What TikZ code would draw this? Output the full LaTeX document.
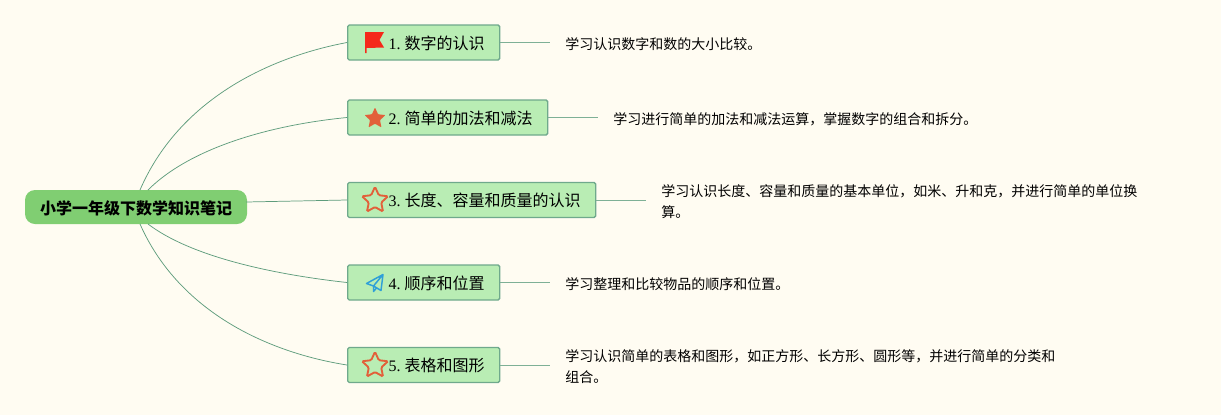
\documentclass[tikz,border=0pt]{standalone}
\usepackage{fontspec}
\setmainfont{Liberation Serif}
\newfontfamily\cjk{Noto Sans CJK SC}
\usetikzlibrary{shapes.geometric}
\definecolor{bgc}{HTML}{FFFCF2}
\definecolor{boxfill}{HTML}{B9EDB4}
\definecolor{boxline}{HTML}{6FA98C}
\definecolor{rootfill}{HTML}{80CE72}
\definecolor{linkc}{HTML}{5E9C7C}
\definecolor{starc}{HTML}{E2603A}
\definecolor{flagc}{HTML}{F5291A}
\definecolor{planec}{HTML}{2F9FD8}
\newcommand{\tnum}[2]{\smash{\raisebox{-5.1pt}{#1.\hspace{3pt}{\cjk #2}}}}
\tikzset{
  rootbox/.style={fill=rootfill,rounded corners=7.5pt,minimum width=166.5pt,minimum height=25.5pt,inner sep=0pt,font=\cjk\bfseries\fontsize{12pt}{14pt}\selectfont},
  topicbox/.style={draw=boxline,fill=boxfill,line width=1pt,rounded corners=1.2pt,minimum height=26.25pt,inner ysep=0pt,inner xsep=11.25pt,align=right,font=\fontsize{12pt}{14pt}\selectfont},
  descnode/.style={anchor=west,inner xsep=11.25pt,inner ysep=0pt,align=left,font=\cjk\fontsize{10.5pt}{16.2pt}\selectfont},
  link/.style={draw=linkc,line width=0.55pt},
  leader/.style={draw=linkc!80,line width=0.7pt},
  staroutline/.style={star,star points=5,star point ratio=2.1,draw=starc,line width=1.4pt,rounded corners=1pt,minimum size=20.5pt,inner sep=0pt,fill=none},
  starfilled/.style={star,star points=5,star point ratio=2.1,fill=starc,rounded corners=0.6pt,minimum size=16.5pt,inner sep=0pt}
}
\begin{document}
\begin{tikzpicture}[x=0.75pt,y=-0.75pt]
\path[use as bounding box,fill=bgc] (0,0) rectangle (1221,415);
% hubs
\coordinate (hubA) at (140,190);
\coordinate (hubB) at (148,190);
\coordinate (hubC) at (140,224);
\coordinate (hubD) at (148,224);
\coordinate (hubE) at (246,202);
% root
\node[rootbox] (root) at (136,207) {\smash{\raisebox{-5.6pt}{小学一年级下数学知识笔记}}};
% topics
\node[topicbox,text width={(152-30)*0.75pt},anchor=west] (t1) at (347,42.5) {\tnum{1}{数字的认识}};
\node[topicbox,text width={(200-30)*0.75pt},anchor=west] (t2) at (347,117.5) {\tnum{2}{简单的加法和减法}};
\node[topicbox,text width={(248-30)*0.75pt},anchor=west] (t3) at (347,200) {\tnum{3}{长度、容量和质量的认识}};
\node[topicbox,text width={(152-30)*0.75pt},anchor=west] (t4) at (347,282.5) {\tnum{4}{顺序和位置}};
\node[topicbox,text width={(152-30)*0.75pt},anchor=west] (t5) at (347,365) {\tnum{5}{表格和图形}};
% descriptions
\node[descnode] (d1) at (550,44) {学习认识数字和数的大小比较。};
\node[descnode] (d2) at (598,119) {学习进行简单的加法和减法运算，掌握数字的组合和拆分。};
\node[descnode] (d3) at (646,201.5) {学习认识长度、容量和质量的基本单位，如米、升和克，并进行简单的单位换\\算。};
\node[descnode] (d4) at (550,284) {学习整理和比较物品的顺序和位置。};
\node[descnode] (d5) at (550,366.5) {学习认识简单的表格和图形，如正方形、长方形、圆形等，并进行简单的分类和\\组合。};
% connectors
\draw[link] (hubA) .. controls (178,102) and (265,58) .. (t1.west);
\draw[link] (hubB) .. controls (190,148) and (270,125) .. (t2.west);
\draw[link] (hubE) -- (t3.west);
\draw[link] (hubD) .. controls (190,256) and (270,274) .. (t4.west);
\draw[link] (hubC) .. controls (178,310) and (265,352) .. (t5.west);
\draw[leader] (t1.east) -- (t1.east -| d1.west);
\draw[leader] (t2.east) -- (t2.east -| d2.west);
\draw[leader] (t3.east) -- (t3.east -| d3.west);
\draw[leader] (t4.east) -- (t4.east -| d4.west);
\draw[leader] (t5.east) -- (t5.east -| d5.west);
% icons
\fill[flagc] (365,32) -- (384,32) -- (379.5,40) -- (384,47.5) -- (366.5,48) -- (366.5,53) -- (365,53) -- cycle;
\node[starfilled] (s2) at (375,118.5) {};
\node[staroutline] (s3) at (375,200.5) {};
\node[staroutline] (s5) at (375,365.5) {};
\draw[planec,line width=1.1pt,line join=round] (383,274.5) -- (366.5,283.5) -- (373.5,286) -- (381,290.5) -- cycle (383,274.5) -- (373.5,286) -- (373.5,291.5) -- (376.5,288);
\end{tikzpicture}
\end{document}
